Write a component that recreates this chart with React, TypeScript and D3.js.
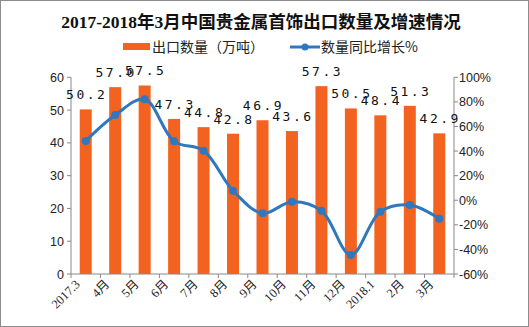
import React from "react";
import * as d3 from "d3";

const categories = ["2017.3", "4月", "5月", "6月", "7月", "8月", "9月", "10月", "11月", "12月", "2018.1", "2月", "3月"];
const volume = [50.2, 57.0, 57.5, 47.3, 44.8, 42.8, 46.9, 43.6, 57.3, 50.5, 48.4, 51.3, 42.9];
const growth = [48.2, 69.3, 82.1, 47.9, 40.3, 7.8, -10.6, -1.2, -8.5, -44.5, -9.3, -3.9, -15.0];
const leftTicks = [0, 10, 20, 30, 40, 50, 60];
const rightTicks = [-60, -40, -20, 0, 20, 40, 60, 80, 100];

const W = 529, H = 327;
const L = 71, R = 454, T = 77.3, B = 274;
const BAR = "#F4621F";
const LINE = "#2E78BF";

export default function App() {
  const x = d3.scaleBand<string>().domain(categories).range([L, R]).paddingInner(0).paddingOuter(0);
  const yL = d3.scaleLinear().domain([0, 60]).range([B, T]);
  const yR = d3.scaleLinear().domain([-60, 100]).range([B, T]);
  const bw = 12;
  const cx = (c: string) => (x(c) as number) + x.bandwidth() / 2;
  const pts: [number, number][] = categories.map((c, i) => [cx(c), yR(growth[i])]);
  const line = d3.line().curve(d3.curveCatmullRom.alpha(0.5))(pts) || "";
  const boundaries = categories.map((c) => x(c) as number).concat([R]);
  const font = "'Liberation Serif', 'Noto Sans CJK SC', serif";
  const numFont = "'Liberation Sans', Arial, sans-serif";

  return (
    <div style={{ position: "fixed", left: 0, top: 0 }}>
      <svg width={W} height={H} style={{ display: "block", background: "#fff" }}>
        <rect x={0.5} y={0.5} width={W - 1} height={H - 1} fill="#fff" stroke="#8c8c8c" />
        <text x={261} y={28} textAnchor="middle" fontFamily={font} fontWeight="bold" fontSize={17.5} fill="#111">
          2017-2018年3月中国贵金属首饰出口数量及增速情况
        </text>
        {/* legend */}
        <rect x={123} y={43} width={27} height={7} fill={BAR} />
        <text x={152} y={52} fontFamily="'Noto Sans CJK SC', sans-serif" fontSize={14} fill="#222">出口数量（万吨）</text>
        <line x1={290} y1={47} x2={320} y2={47} stroke={LINE} strokeWidth={3} />
        <circle cx={305} cy={47} r={3.5} fill={LINE} />
        <text x={321} y={52} fontFamily="'Noto Sans CJK SC', sans-serif" fontSize={14} fill="#222">数量同比增长%</text>

        {/* bars */}
        {categories.map((c, i) => (
          <rect key={c} x={cx(c) - bw / 2} y={yL(volume[i])} width={bw} height={B - yL(volume[i])} fill={BAR} />
        ))}

        {/* axes */}
        <line x1={L} y1={T} x2={L} y2={B} stroke="#888" />
        <line x1={R} y1={T} x2={R} y2={B} stroke="#888" />
        <line x1={L} y1={B} x2={R} y2={B} stroke="#888" />
        {leftTicks.map((t) => (
          <g key={t}>
            <line x1={L - 4} x2={L} y1={yL(t)} y2={yL(t)} stroke="#888" />
            <text x={L - 7} y={yL(t) + 4.5} textAnchor="end" fontFamily={numFont} fontSize={12.5} fill="#222">{t}</text>
          </g>
        ))}
        {rightTicks.map((t) => (
          <g key={t}>
            <line x1={R} x2={R + 4} y1={yR(t)} y2={yR(t)} stroke="#888" />
            <text x={R + 5} y={yR(t) + 4.5} textAnchor="start" fontFamily={numFont} fontSize={12.5} fill="#222">{t}%</text>
          </g>
        ))}
        {boundaries.map((b, i) => (
          <line key={i} x1={b} x2={b} y1={B} y2={B + 4} stroke="#888" />
        ))}
        {categories.map((c) => (
          <text key={c} transform={`translate(${cx(c) - 5},${B + 11}) rotate(-45)`} textAnchor="end" fontFamily={font} fontSize={12.5} fill="#222">{c}</text>
        ))}

        {/* line */}
        <path d={line} fill="none" stroke={LINE} strokeWidth={3} />
        {pts.map((p, i) => (
          <circle key={i} cx={p[0]} cy={p[1]} r={4} fill={LINE} />
        ))}

        {/* data labels */}
        {categories.map((c, i) => (
          <text key={c} x={cx(c) + 1} y={yL(volume[i]) - 10} textAnchor="middle" fontFamily="'DejaVu Sans Mono', monospace" fontSize={13} letterSpacing={2.5} fill="#111">
            {volume[i].toFixed(1)}
          </text>
        ))}
      </svg>
    </div>
  );
}
